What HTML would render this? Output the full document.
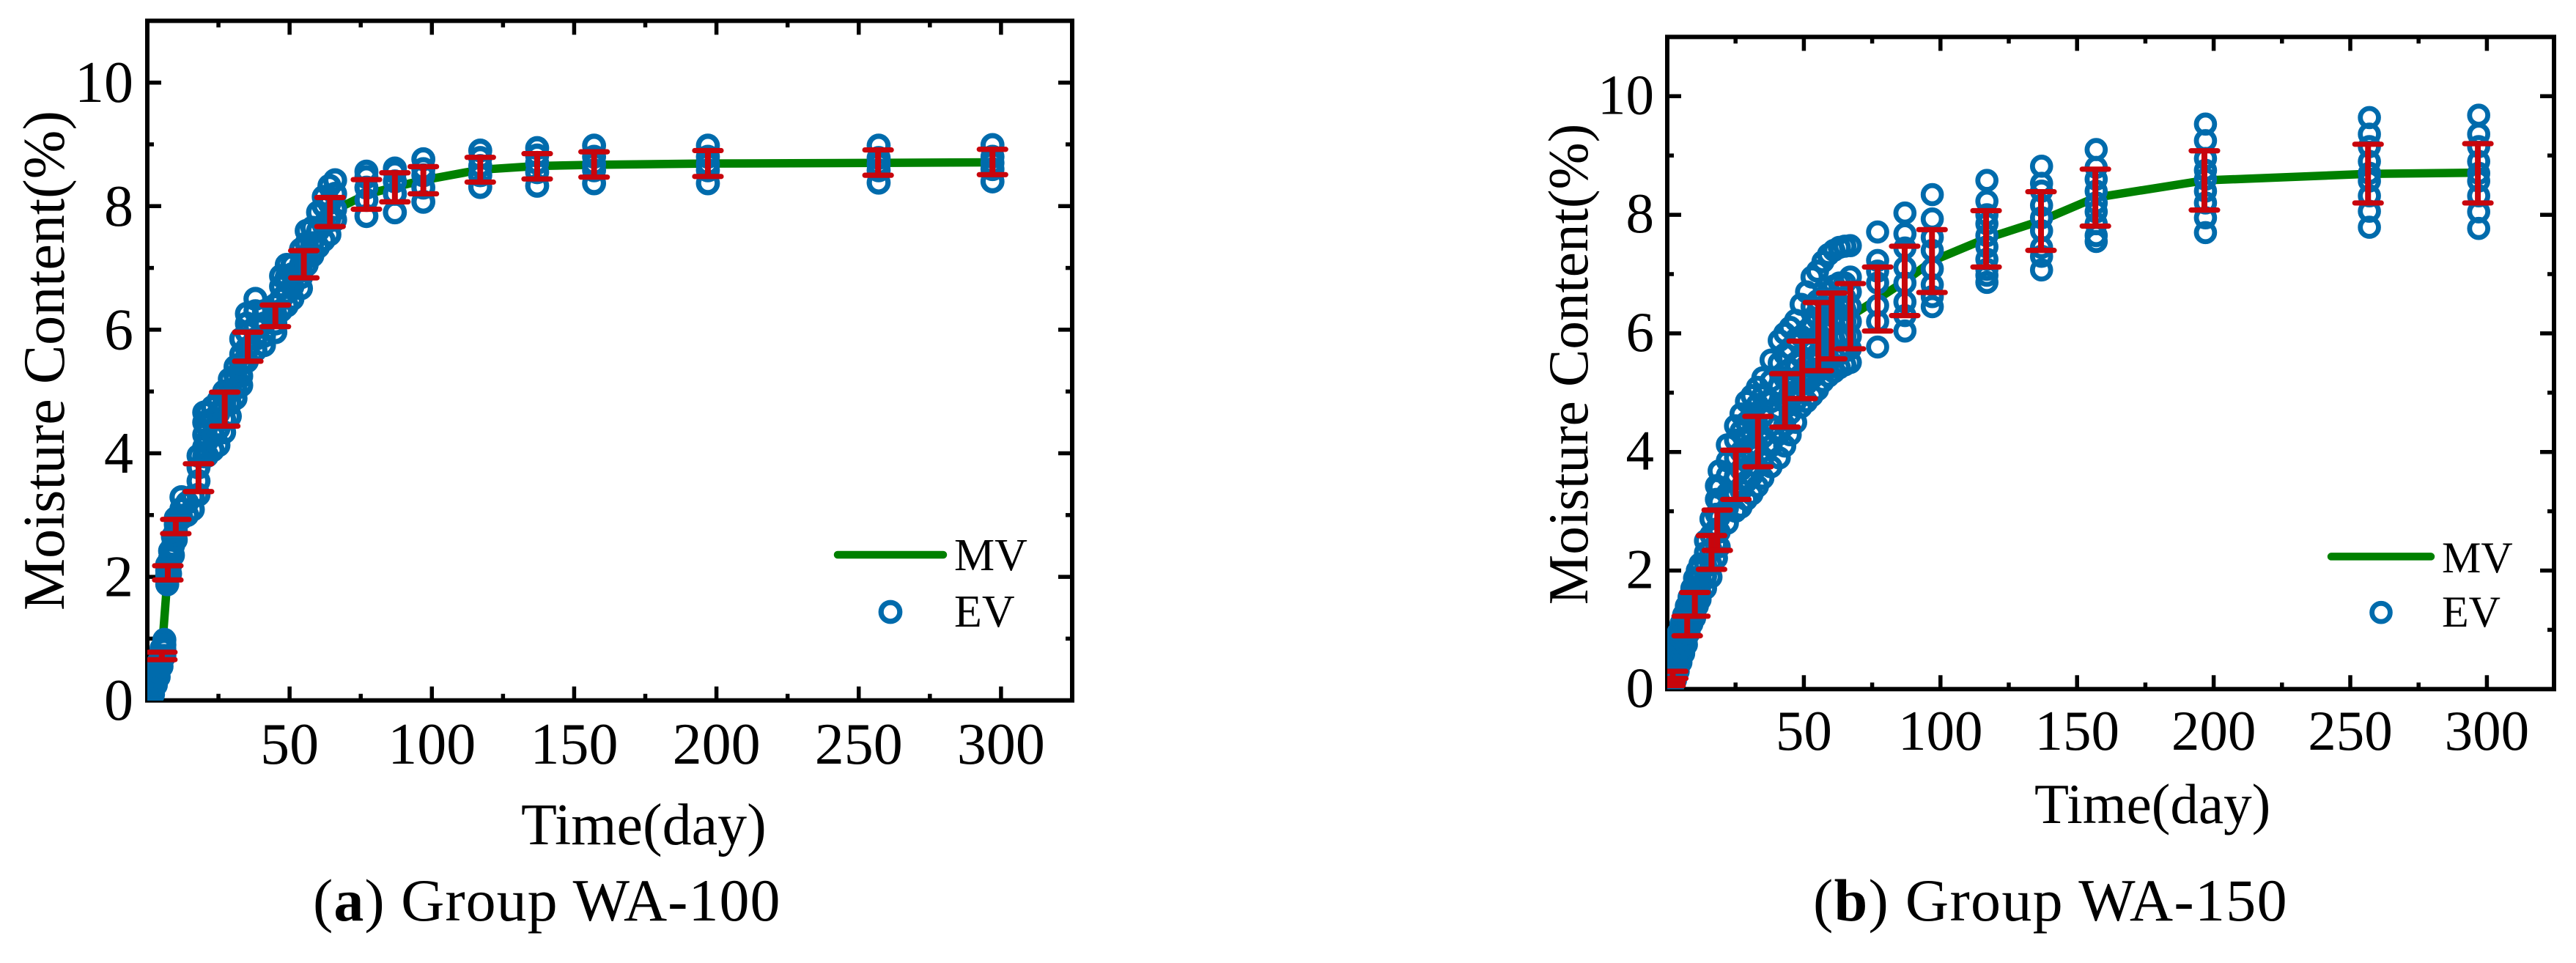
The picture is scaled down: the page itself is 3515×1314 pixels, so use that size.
<!DOCTYPE html>
<html lang="en">
<head>
<meta charset="utf-8">
<title>Moisture content over time: Group WA-100 and WA-150</title>
<style>
html,body{margin:0;padding:0;background:#fff;width:3515px;height:1314px;overflow:hidden}
svg{display:block}
text{font-family:"Liberation Serif",serif;fill:#000}
</style>
</head>
<body>
<svg id="figure" xmlns="http://www.w3.org/2000/svg" width="3515" height="1314" viewBox="0 0 3515 1314">
  <defs>
    <clipPath id="clip-a"><rect x="201" y="28" width="1262" height="928"/></clipPath>
    <clipPath id="clip-b"><rect x="2275" y="50" width="1210" height="890.5"/></clipPath>
  </defs>
  <rect width="3515" height="1314" fill="#fff"/>
  <g id="chart-a"></g>
  <g id="chart-b"></g>
  <text x="427" y="1256" font-size="82" letter-spacing="1.0">(<tspan font-weight="bold">a</tspan>) Group WA-100</text>
  <text x="2474" y="1256" font-size="82" letter-spacing="1.3">(<tspan font-weight="bold">b</tspan>) Group WA-150</text>
</svg>
<script>
const xTickLabels = [50, 100, 150, 200, 250, 300];
const xMinorTicks = [25, 75, 125, 175, 225, 275];
const yTickLabels = [0, 2, 4, 6, 8, 10];
const yMinorTicks = [1, 3, 5, 7, 9];
const legendLabels = ['MV', 'EV'];

/* Group WA-100 */
const aMvDays = [1, 5, 7.2, 10, 18, 27.2, 35.3, 45, 55, 64.2, 77, 87, 97, 117, 137, 157, 197, 257, 297];
const aMvValues = [0.1, 0.72, 2.07, 2.82, 3.6, 4.72, 5.73, 6.22, 7.06, 7.9, 8.19, 8.31, 8.42, 8.59, 8.65, 8.67, 8.69, 8.70, 8.71];
const aBarDays = [5.1, 7.2, 10, 18, 27.2, 35.3, 45, 55, 64.2, 77, 87, 97, 117, 137, 157, 197, 256.8, 297];
const aBarLow = [0.66, 1.95, 2.70, 3.38, 4.44, 5.49, 6.05, 6.84, 7.67, 7.95, 8.07, 8.20, 8.39, 8.44, 8.47, 8.48, 8.50, 8.51];
const aBarHigh = [0.78, 2.18, 2.93, 3.83, 4.99, 5.96, 6.40, 7.28, 8.14, 8.43, 8.54, 8.64, 8.79, 8.85, 8.88, 8.90, 8.91, 8.92];
const aEvDays = [1, 2, 3, 4, 5, 6, 7, 8, 9, 10, 12, 14, 16, 18, 20, 21, 23, 25, 27, 29, 31, 33, 35, 38, 41, 45, 47, 49, 51, 54, 56, 58, 60, 62, 64, 66, 77, 87, 97, 117, 137, 157, 197, 257, 297];
const aEvValues = [
  [0.02, 0.08, 0.14, 0.20, 0.26],
  [0.10, 0.18, 0.28, 0.35],
  [0.25, 0.33, 0.42, 0.50],
  [0.38, 0.46, 0.54, 0.62],
  [0.55, 0.62, 0.72, 0.84],
  [0.72, 0.82, 0.90, 0.98],
  [1.88, 1.95, 2.03, 2.10, 2.20],
  [2.05, 2.18, 2.30, 2.42],
  [2.35, 2.50, 2.65],
  [2.60, 2.75, 2.85, 2.95],
  [2.95, 3.10, 3.29],
  [3.00, 3.20],
  [3.09, 3.30],
  [3.33, 3.55, 3.77, 3.96],
  [3.95, 4.10, 4.30, 4.50, 4.66],
  [3.96, 4.20, 4.45, 4.66],
  [4.05, 4.30, 4.55, 4.75],
  [4.13, 4.40, 4.65, 4.85],
  [4.34, 4.55, 4.80, 5.00],
  [4.60, 4.80, 5.00, 5.20],
  [4.89, 5.05, 5.25, 5.40],
  [5.10, 5.25, 5.45, 5.60, 5.85],
  [5.49, 5.70, 5.95, 6.10, 6.26],
  [5.67, 5.85, 6.05, 6.30, 6.50],
  [5.75, 5.90, 6.10, 6.30],
  [5.96, 6.10, 6.25, 6.40],
  [6.31, 6.50, 6.70, 6.87],
  [6.39, 6.60, 6.85, 7.05],
  [6.50, 6.70, 6.90, 7.05],
  [6.67, 6.85, 7.05, 7.30],
  [7.05, 7.20, 7.40, 7.60],
  [7.20, 7.40, 7.65],
  [7.34, 7.60, 7.90],
  [7.45, 7.70, 8.00, 8.15],
  [7.54, 7.80, 8.05, 8.33],
  [7.78, 7.95, 8.20, 8.42],
  [7.84, 8.10, 8.30, 8.47, 8.56],
  [7.90, 8.20, 8.40, 8.55, 8.61],
  [8.07, 8.30, 8.50, 8.60, 8.76],
  [8.31, 8.50, 8.65, 8.78, 8.90],
  [8.33, 8.55, 8.70, 8.82, 8.94],
  [8.37, 8.58, 8.68, 8.80, 8.98],
  [8.37, 8.58, 8.68, 8.80, 8.98],
  [8.38, 8.58, 8.68, 8.78, 8.98],
  [8.40, 8.60, 8.70, 8.80, 8.99]
];

/* Group WA-150 */
const bMvDays = [1, 2, 7.3, 10.1, 16.2, 18.3, 25.1, 33.2, 43.1, 49.4, 55.3, 60.2, 67, 77, 86.9, 96.9, 116.7, 136.8, 156.7, 196.6, 256.5, 296.7];
const bMvValues = [0.09, 0.24, 1.06, 1.43, 2.30, 2.68, 3.62, 4.17, 4.87, 5.38, 5.95, 6.12, 6.29, 6.58, 6.88, 7.22, 7.60, 7.90, 8.29, 8.58, 8.69, 8.71];
const bBarDays = [1, 2, 7.3, 10.1, 16.2, 18.3, 25.1, 33.2, 43.1, 49.4, 55.3, 60.2, 67, 77, 86.9, 96.9, 116.7, 136.8, 156.7, 196.6, 256.5, 296.7];
const bBarLow = [0.06, 0.18, 0.90, 1.23, 2.02, 2.34, 3.20, 3.75, 4.42, 4.90, 5.37, 5.57, 5.74, 6.04, 6.30, 6.69, 7.12, 7.40, 7.81, 8.08, 8.20, 8.20];
const bBarHigh = [0.12, 0.30, 1.23, 1.63, 2.59, 3.02, 4.03, 4.60, 5.32, 5.87, 6.52, 6.68, 6.84, 7.12, 7.47, 7.75, 8.07, 8.39, 8.77, 9.08, 9.19, 9.20];
const bEvDays = [1, 2, 3, 4, 5, 6, 7, 8, 9, 10, 11, 12, 14, 16, 18, 19, 22, 25, 27, 29, 31, 33, 35, 38, 41, 43, 45, 47, 49, 51, 53, 55, 57, 59, 61, 63, 65, 67, 77, 87, 97, 117, 137, 157, 197, 257, 297];
const bEvValues = [
  [0.02, 0.08, 0.14, 0.20, 0.26, 0.32],
  [0.05, 0.12, 0.20, 0.28, 0.36, 0.45, 0.55],
  [0.15, 0.22, 0.30, 0.38, 0.46, 0.55, 0.65, 0.75],
  [0.30, 0.38, 0.46, 0.55, 0.65, 0.75, 0.85, 0.95],
  [0.45, 0.55, 0.65, 0.75, 0.85, 0.95, 1.02, 1.10],
  [0.60, 0.70, 0.80, 0.90, 1.00, 1.10, 1.18, 1.25],
  [0.75, 0.85, 0.95, 1.05, 1.15, 1.25, 1.32, 1.40],
  [0.95, 1.05, 1.15, 1.25, 1.35, 1.45, 1.55],
  [1.10, 1.20, 1.30, 1.40, 1.50, 1.60, 1.70],
  [1.20, 1.30, 1.42, 1.55, 1.70, 1.87],
  [1.40, 1.55, 1.70, 1.85, 2.00],
  [1.51, 1.62, 1.75, 1.88, 2.11],
  [1.70, 1.90, 2.10, 2.30, 2.50],
  [1.89, 2.10, 2.35, 2.60, 2.87],
  [2.21, 2.45, 2.70, 2.95, 3.20, 3.43],
  [2.40, 2.65, 2.90, 3.15, 3.40, 3.68],
  [2.80, 3.05, 3.30, 3.60, 3.85, 4.12],
  [3.00, 3.30, 3.60, 3.90, 4.20, 4.44],
  [3.07, 3.35, 3.70, 4.00, 4.35, 4.64],
  [3.20, 3.50, 3.85, 4.20, 4.50, 4.85],
  [3.29, 3.60, 3.95, 4.30, 4.65, 4.95],
  [3.42, 3.75, 4.10, 4.45, 4.80, 5.09],
  [3.56, 3.90, 4.25, 4.60, 4.95, 5.25],
  [3.75, 4.10, 4.45, 4.85, 5.20, 5.55],
  [3.90, 4.30, 4.70, 5.10, 5.50, 5.88],
  [4.10, 4.45, 4.85, 5.25, 5.65, 6.00],
  [4.29, 4.65, 5.00, 5.40, 5.75, 6.10],
  [4.50, 4.85, 5.20, 5.50, 5.90, 6.22],
  [4.76, 5.00, 5.30, 5.60, 5.95, 6.49],
  [4.85, 5.15, 5.45, 5.75, 6.05, 6.70],
  [4.95, 5.25, 5.55, 5.85, 6.15, 6.45, 6.95],
  [5.05, 5.35, 5.65, 5.95, 6.25, 6.55, 7.05],
  [5.19, 5.45, 5.75, 6.05, 6.30, 6.60, 7.21],
  [5.28, 5.55, 5.80, 6.10, 6.40, 6.70, 7.33],
  [5.35, 5.60, 5.90, 6.15, 6.45, 6.80, 7.40],
  [5.42, 5.65, 5.92, 6.20, 6.50, 6.85, 7.45],
  [5.47, 5.70, 5.95, 6.20, 6.40, 6.60, 6.85, 7.47],
  [5.51, 5.74, 5.95, 6.20, 6.45, 6.70, 6.95, 7.48],
  [5.77, 6.20, 6.47, 6.85, 7.05, 7.23, 7.71],
  [6.04, 6.30, 6.53, 6.85, 7.11, 7.44, 7.68, 8.03],
  [6.45, 6.62, 6.82, 7.09, 7.40, 7.62, 7.93, 8.34],
  [6.86, 6.98, 7.08, 7.25, 7.46, 7.65, 7.85, 8.00, 8.23, 8.58],
  [7.07, 7.30, 7.45, 7.73, 7.95, 8.16, 8.40, 8.53, 8.82],
  [7.55, 7.65, 7.85, 8.05, 8.20, 8.40, 8.60, 8.80, 9.10],
  [7.70, 7.95, 8.20, 8.40, 8.60, 8.75, 8.95, 9.25, 9.53],
  [7.79, 8.06, 8.32, 8.57, 8.70, 8.90, 9.15, 9.36, 9.64],
  [7.77, 8.05, 8.32, 8.57, 8.70, 8.90, 9.15, 9.36, 9.68]
];

const SVG_NS = 'http://www.w3.org/2000/svg';
function mk(parent, tag, attrs, txt) {
  const el = document.createElementNS(SVG_NS, tag);
  for (const k in attrs) el.setAttribute(k, attrs[k]);
  if (txt !== undefined) el.textContent = txt;
  parent.appendChild(el);
  return el;
}

function drawChart(o) {
  const root = document.getElementById(o.id);
  const sx = d => o.x0 + o.pxPerDay * d;
  const sy = v => o.y0 - o.pxPerUnit * v;
  const top = sy(11), bottom = sy(0);

  /* data layer, clipped to the plot area, painted over the axes */
  const plot = mk(root, 'g', {'clip-path': 'url(#' + o.clip + ')'});
  
  

  const frameEl = mk(root, 'rect', {x: o.x0, y: top, width: o.right - o.x0, height: bottom - top, fill: 'none', stroke: '#000', 'stroke-width': 6});
  
  
  root.insertBefore(frameEl, plot);

  const ticks = mk(root, 'g', {stroke: '#000', 'stroke-width': 5.5});
  
  
  root.insertBefore(ticks, plot);

  xTickLabels.forEach(t => {
    const x = sx(t);
    const a = mk(ticks, 'line', {x1: x, x2: x, y1: bottom, y2: bottom - 19});
    
    
    const b = mk(ticks, 'line', {x1: x, x2: x, y1: top, y2: top + 19});
    
    
    const lab = mk(root, 'text', {x: x, y: o.xLabelY, 'font-size': o.tickFont, 'text-anchor': 'middle'}, String(t));
    
    
  });
  xMinorTicks.forEach(t => {
    const x = sx(t);
    const a = mk(ticks, 'line', {x1: x, x2: x, y1: bottom, y2: bottom - 9});
    
    
    const b = mk(ticks, 'line', {x1: x, x2: x, y1: top, y2: top + 9});
    
    
  });
  yTickLabels.forEach(v => {
    const y = sy(v);
    if (v !== 0) {
      const a = mk(ticks, 'line', {x1: o.x0, x2: o.x0 + 19, y1: y, y2: y});
      
      
      const b = mk(ticks, 'line', {x1: o.right, x2: o.right - 19, y1: y, y2: y});
      
      
    }
    const lab = mk(root, 'text', {x: o.yLabelX, y: y + o.yLabelDy, 'font-size': o.tickFont, 'text-anchor': 'end'}, String(v));
    
    
  });
  yMinorTicks.forEach(v => {
    const y = sy(v);
    const a = mk(ticks, 'line', {x1: o.x0, x2: o.x0 + 9, y1: y, y2: y});
    
    
    const b = mk(ticks, 'line', {x1: o.right, x2: o.right - 9, y1: y, y2: y});
    
    
  });

  /* MV line */
  const pts = o.mvDays.map((d, i) => sx(d) + ',' + sy(o.mvValues[i])).join(' ');
  const mv = mk(plot, 'polyline', {points: pts, fill: 'none', stroke: '#008000', 'stroke-width': 11.5, 'stroke-linejoin': 'round'});
  
  

  /* EV markers: hole pass hides the line, stroke pass stays see-through */
  const holes = mk(plot, 'g', {fill: '#fff', stroke: 'none'});
  
  
  const rings = mk(plot, 'g', {fill: 'none', stroke: '#006BAC', 'stroke-width': o.markerStroke});
  
  
  o.evDays.forEach((d, i) => {
    o.evValues[i].forEach(v => {
      const h = mk(holes, 'circle', {cx: sx(d), cy: sy(v), r: o.markerR});
      
      
      const c = mk(rings, 'circle', {cx: sx(d), cy: sy(v), r: o.markerR});
      
      
    });
  });

  /* Error bars */
  const bars = mk(plot, 'g', {stroke: '#C8050C', fill: 'none'});
  
  
  o.barDays.forEach((d, i) => {
    const x = sx(d), yl = sy(o.barLow[i]), yh = sy(o.barHigh[i]);
    const bar = mk(bars, 'g', {});
    
    
    mk(bar, 'line', {x1: x, x2: x, y1: yl, y2: yh, 'stroke-width': 8});
    mk(bar, 'line', {x1: x - 18, x2: x + 18, y1: yh, y2: yh, 'stroke-width': 7.2, 'stroke-linecap': 'round'});
    mk(bar, 'line', {x1: x - 18, x2: x + 18, y1: yl, y2: yl, 'stroke-width': 7.2, 'stroke-linecap': 'round'});
  });

  /* Axis titles */
  const yt = mk(root, 'text', {transform: 'translate(' + o.yTitleX + ',' + o.yTitleY + ') rotate(-90)', 'font-size': o.titleFont, 'text-anchor': 'middle'}, 'Moisture Content(%)');
  
  
  const xt = mk(root, 'text', {x: o.xTitleX, y: o.xTitleY, 'font-size': o.titleFont}, 'Time(day)');
  
  

  /* Legend */
  const leg = mk(root, 'g', {});
  
  
  const ll = mk(leg, 'line', {x1: o.legLineX1, x2: o.legLineX2, y1: o.legLineY, y2: o.legLineY, stroke: '#008000', 'stroke-width': 10.5, 'stroke-linecap': 'round'});
  
  
  const lm = mk(leg, 'circle', {cx: (o.legLineX1 + o.legLineX2) / 2, cy: o.legMarkerY, r: o.markerR, fill: 'none', stroke: '#006BAC', 'stroke-width': o.markerStroke});
  
  
  const t1 = mk(leg, 'text', {x: o.legTextX, y: o.legText1Y, 'font-size': o.legFont}, legendLabels[0]);
  
  
  const t2 = mk(leg, 'text', {x: o.legTextX, y: o.legText2Y, 'font-size': o.legFont}, legendLabels[1]);
  
  
}

drawChart({
  id: 'chart-a', clip: 'clip-a',
  x0: 201, right: 1463, pxPerDay: 3.883, y0: 955.7, pxPerUnit: 84.3,
  tickFont: 80, titleFont: 80, legFont: 62,
  xLabelY: 1042, yLabelX: 182, yLabelDy: 26.5,
  yTitleX: 87, yTitleY: 492, xTitleX: 711, xTitleY: 1152,
  markerR: 12.8, markerStroke: 7.2,
  legLineX1: 1143, legLineX2: 1287, legLineY: 757, legMarkerY: 835,
  legTextX: 1302, legText1Y: 778, legText2Y: 855,
  mvDays: aMvDays, mvValues: aMvValues,
  barDays: aBarDays, barLow: aBarLow, barHigh: aBarHigh,
  evDays: aEvDays, evValues: aEvValues
});

drawChart({
  id: 'chart-b', clip: 'clip-b',
  x0: 2275, right: 3485, pxPerDay: 3.728, y0: 940.3, pxPerUnit: 80.9,
  tickFont: 77, titleFont: 77, legFont: 60,
  xLabelY: 1023, yLabelX: 2257, yLabelDy: 24,
  yTitleX: 2166, yTitleY: 497, xTitleX: 2776, xTitleY: 1123,
  markerR: 12.4, markerStroke: 6.8,
  legLineX1: 3181, legLineX2: 3317, legLineY: 759.4, legMarkerY: 835.7,
  legTextX: 3332, legText1Y: 781, legText2Y: 855,
  mvDays: bMvDays, mvValues: bMvValues,
  barDays: bBarDays, barLow: bBarLow, barHigh: bBarHigh,
  evDays: bEvDays, evValues: bEvValues
});
</script>
</body>
</html>
